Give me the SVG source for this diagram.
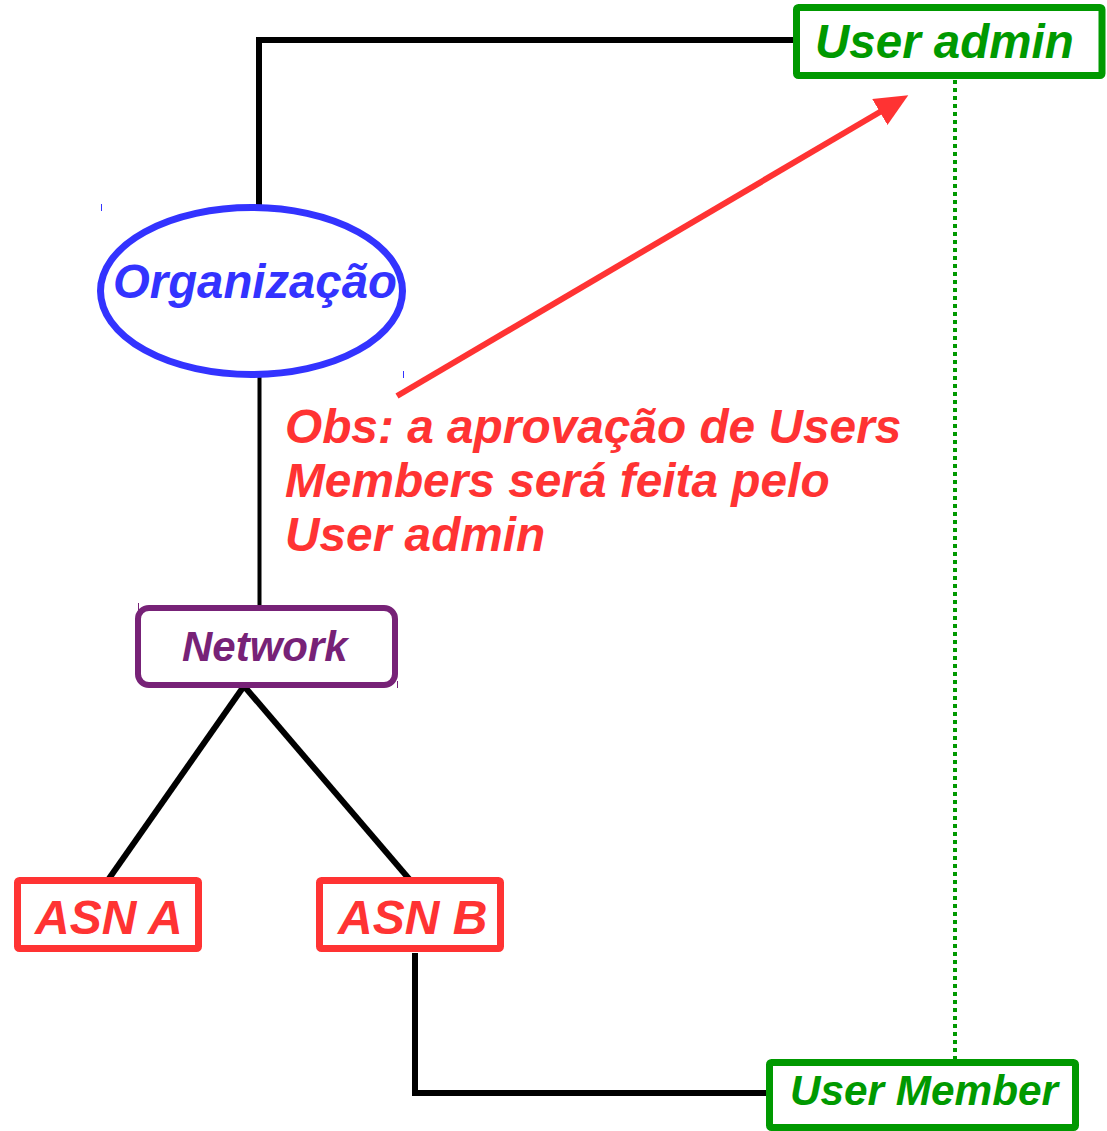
<svg xmlns="http://www.w3.org/2000/svg" width="1107" height="1131" viewBox="0 0 1107 1131">
  <style>
    .lbl { font-family: "Liberation Sans", Arial, sans-serif; font-weight: bold; font-style: italic; }
    .wire { fill: none; stroke: #000; stroke-width: 6; stroke-linecap: butt; stroke-linejoin: miter; }
    .green { fill: #fff; stroke: #009900; stroke-width: 7; }
    .red { fill: #fff; stroke: #ff3333; stroke-width: 7; }
  </style>
  <defs>
    <marker id="arrowHead" markerWidth="6" markerHeight="5" refX="1" refY="2.5" orient="auto" markerUnits="strokeWidth">
      <path d="M0,0 L5.5,2.5 L0,5 Z" fill="#ff3333"/>
    </marker>
  </defs>
  <rect width="1107" height="1131" fill="#fff"/>

  <g id="connectors">
    <polyline class="wire" points="259,207 259,40 796,40"/>
    <line class="wire" x1="259.5" y1="376" x2="259.5" y2="607" style="stroke-width:4"/>
    <line class="wire" x1="244" y1="686" x2="108" y2="880"/>
    <line class="wire" x1="244" y1="686" x2="410" y2="880"/>
    <polyline class="wire" points="415,953 415,1093 768,1093"/>
    <line x1="955" y1="80" x2="955" y2="1059" stroke="#009900" stroke-width="4" stroke-dasharray="4 4"/>
    <line x1="397" y1="396" x2="885" y2="109" stroke="#ff3333" stroke-width="6" marker-end="url(#arrowHead)"/>
  </g>

  <g id="user-admin">
    <rect class="green" x="796.5" y="7.5" width="305.5" height="68" rx="2"/>
    <text class="lbl" x="815" y="58" font-size="47.5" fill="#009900">User admin</text>
  </g>

  <g id="organizacao">
    <ellipse cx="251.5" cy="291" rx="151" ry="83.5" fill="#fff" stroke="#3333ff" stroke-width="7"/>
    <text class="lbl" x="113" y="298" font-size="47.3" fill="#3333ff">Organização</text>
    <line x1="101.5" y1="204" x2="101.5" y2="211" stroke="#3333ff" stroke-width="1"/>
    <line x1="403.5" y1="371" x2="403.5" y2="378" stroke="#3333ff" stroke-width="1"/>
  </g>

  <g id="obs-note">
    <text class="lbl" font-size="47.8" fill="#ff3333">
      <tspan x="285" y="443">Obs: a aprovação de Users</tspan>
      <tspan x="285" y="497">Members será feita pelo</tspan>
      <tspan x="285" y="551">User admin</tspan>
    </text>
  </g>

  <g id="network">
    <rect x="138" y="608" width="257" height="77" rx="11" fill="#fff" stroke="#772277" stroke-width="6"/>
    <text class="lbl" x="182" y="661" font-size="42" fill="#772277">Network</text>
    <line x1="138.5" y1="603" x2="138.5" y2="610" stroke="#772277" stroke-width="1"/>
    <line x1="397.5" y1="681" x2="397.5" y2="688" stroke="#772277" stroke-width="1"/>
  </g>

  <g id="asn-a">
    <rect class="red" x="17.5" y="880.5" width="181" height="68" rx="2"/>
    <text class="lbl" x="35" y="934" font-size="48" fill="#ff3333">ASN A</text>
  </g>

  <g id="asn-b">
    <rect class="red" x="319.5" y="880.5" width="181" height="68" rx="2"/>
    <text class="lbl" x="338" y="934" font-size="48" fill="#ff3333">ASN B</text>
  </g>

  <g id="user-member">
    <rect class="green" x="769.5" y="1062.5" width="306" height="65" rx="2"/>
    <text class="lbl" x="790" y="1105" font-size="42.3" fill="#009900">User Member</text>
  </g>
</svg>
